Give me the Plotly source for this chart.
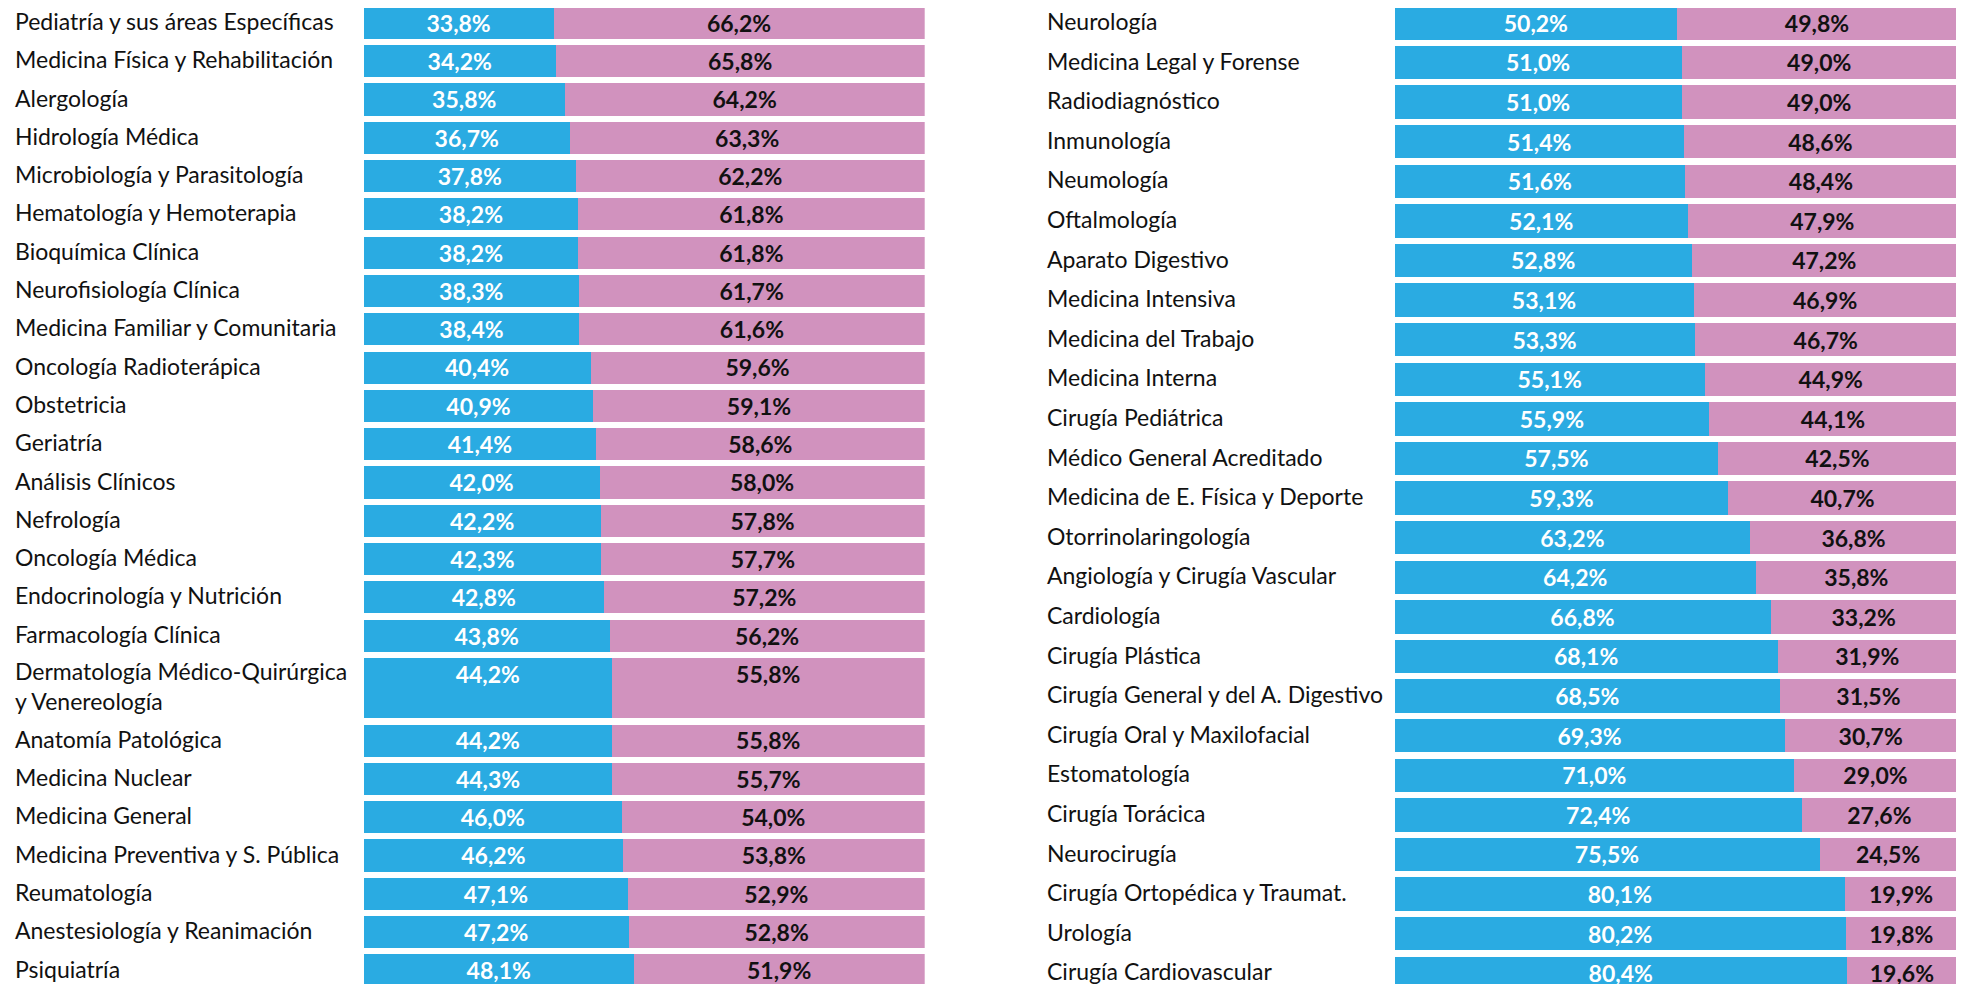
import plotly.graph_objects as go

# ---- data ----
left_categories = [
    "Pediatría y sus áreas Específicas", "Medicina Física y Rehabilitación", "Alergología",
    "Hidrología Médica", "Microbiología y Parasitología", "Hematología y Hemoterapia",
    "Bioquímica Clínica", "Neurofisiología Clínica", "Medicina Familiar y Comunitaria",
    "Oncología Radioterápica", "Obstetricia", "Geriatría", "Análisis Clínicos", "Nefrología",
    "Oncología Médica", "Endocrinología y Nutrición", "Farmacología Clínica",
    "Dermatología Médico-Quirúrgica<br>y Venereología", "Anatomía Patológica", "Medicina Nuclear",
    "Medicina General", "Medicina Preventiva y S. Pública", "Reumatología",
    "Anestesiología y Reanimación", "Psiquiatría",
]
left_men = [33.8, 34.2, 35.8, 36.7, 37.8, 38.2, 38.2, 38.3, 38.4, 40.4, 40.9, 41.4, 42.0, 42.2,
            42.3, 42.8, 43.8, 44.2, 44.2, 44.3, 46.0, 46.2, 47.1, 47.2, 48.1]
left_women = [66.2, 65.8, 64.2, 63.3, 62.2, 61.8, 61.8, 61.7, 61.6, 59.6, 59.1, 58.6, 58.0, 57.8,
              57.7, 57.2, 56.2, 55.8, 55.8, 55.7, 54.0, 53.8, 52.9, 52.8, 51.9]

right_categories = [
    "Neurología", "Medicina Legal y Forense", "Radiodiagnóstico", "Inmunología", "Neumología",
    "Oftalmología", "Aparato Digestivo", "Medicina Intensiva", "Medicina del Trabajo",
    "Medicina Interna", "Cirugía Pediátrica", "Médico General Acreditado",
    "Medicina de E. Física y Deporte", "Otorrinolaringología", "Angiología y Cirugía Vascular",
    "Cardiología", "Cirugía Plástica", "Cirugía General y del A. Digestivo",
    "Cirugía Oral y Maxilofacial", "Estomatología", "Cirugía Torácica", "Neurocirugía",
    "Cirugía Ortopédica y Traumat.", "Urología", "Cirugía Cardiovascular",
]
right_men = [50.2, 51.0, 51.0, 51.4, 51.6, 52.1, 52.8, 53.1, 53.3, 55.1, 55.9, 57.5, 59.3, 63.2,
             64.2, 66.8, 68.1, 68.5, 69.3, 71.0, 72.4, 75.5, 80.1, 80.2, 80.4]
right_women = [49.8, 49.0, 49.0, 48.6, 48.4, 47.9, 47.2, 46.9, 46.7, 44.9, 44.1, 42.5, 40.7, 36.8,
               35.8, 33.2, 31.9, 31.5, 30.7, 29.0, 27.6, 24.5, 19.9, 19.8, 19.6]

# ---- style ----
PAGE_W, PAGE_H = 1964, 984
OFF = 8                      # default page margin of the html body
W, H = PAGE_W - OFF, PAGE_H - OFF
BLUE = "#2AABE2"
PINK = "#D192BE"
FONT = "Lato, 'Open Sans', sans-serif"
LABEL_SIZE = 23
PCT_SIZE = 23
EXTRA_LINE = 0.74     # extra row height per extra label line (row units)
GAP = 0.16            # gap between bars (row units)
PCT_SHIFT = 0.08      # nudge of value labels (row units, downward)
LABEL_SHIFT = -0.05   # nudge of category labels (row units, upward)


def fmt(v):
    return f"{v:.1f}".replace(".", ",") + "%"


def layout_rows(cats):
    tops, heights = [], []
    t = 0.0
    for c in cats:
        h = 1.0 + EXTRA_LINE * c.count("<br>")
        tops.append(t)
        heights.append(h)
        t += h
    return tops, heights


def px(v):
    return v - OFF


fig = go.Figure()
annotations = []

panels = [
    # cats, men, women, xaxis, yaxis, label x (page px), pitch (px), first slot top (page px)
    (left_categories, left_men, left_women, "x", "y", 12.5, 38.3, 3.75),
    (right_categories, right_men, right_women, "x2", "y2", 1045, 39.6, 3.1),
]

yranges = []
for cats, men, women, xa, ya, label_x, pitch, top_px in panels:
    tops, heights = layout_rows(cats)
    centers = [t + h / 2 for t, h in zip(tops, heights)]
    widths = [h - GAP for h in heights]
    text_y = [t + 0.5 + PCT_SHIFT for t in tops]
    t0 = px(top_px)
    yranges.append([(H - t0) / pitch, -t0 / pitch])
    fig.add_trace(go.Bar(
        y=centers, x=men, base=0, orientation="h", width=widths,
        marker=dict(color=BLUE, line=dict(width=0)), xaxis=xa, yaxis=ya,
        showlegend=False, hoverinfo="skip",
    ))
    fig.add_trace(go.Bar(
        y=centers, x=women, base=men, orientation="h", width=widths,
        marker=dict(color=PINK, line=dict(width=0)), xaxis=xa, yaxis=ya,
        showlegend=False, hoverinfo="skip",
    ))
    fig.add_trace(go.Scatter(
        x=[m / 2 for m in men], y=text_y, mode="text", text=[fmt(m) for m in men],
        textfont=dict(family=FONT, size=PCT_SIZE, color="white", weight="bold"),
        textposition="middle center", xaxis=xa, yaxis=ya, showlegend=False, hoverinfo="skip",
        cliponaxis=False,
    ))
    fig.add_trace(go.Scatter(
        x=[m + w / 2 for m, w in zip(men, women)], y=text_y, mode="text",
        text=[fmt(w) for w in women],
        textfont=dict(family=FONT, size=PCT_SIZE, color="#111111", weight="bold"),
        textposition="middle center", xaxis=xa, yaxis=ya, showlegend=False, hoverinfo="skip",
        cliponaxis=False,
    ))
    for c, yc in zip(cats, centers):
        annotations.append(dict(
            text=c, x=px(label_x) / W, xref="paper", xanchor="left", y=yc + LABEL_SHIFT,
            yref=ya, yanchor="middle", showarrow=False, align="left",
            font=dict(family=FONT, size=LABEL_SIZE, color="#111111"),
        ))

axis_off = dict(showgrid=False, zeroline=False, showticklabels=False, showline=False, ticks="")
fig.update_layout(
    width=W, height=H,
    margin=dict(l=0, r=0, t=0, b=0),
    paper_bgcolor="white", plot_bgcolor="white",
    barmode="overlay", bargap=0,
    xaxis=dict(domain=[px(363.8) / W, px(924.7) / W], range=[0, 100], **axis_off),
    yaxis=dict(domain=[0, 1], range=yranges[0], **axis_off),
    xaxis2=dict(domain=[px(1394.7) / W, px(1957) / W], range=[0, 100], anchor="y2", **axis_off),
    yaxis2=dict(domain=[0, 1], range=yranges[1], anchor="x2", **axis_off),
    annotations=annotations,
    font=dict(family=FONT),
)

fig.write_html("out.html")
